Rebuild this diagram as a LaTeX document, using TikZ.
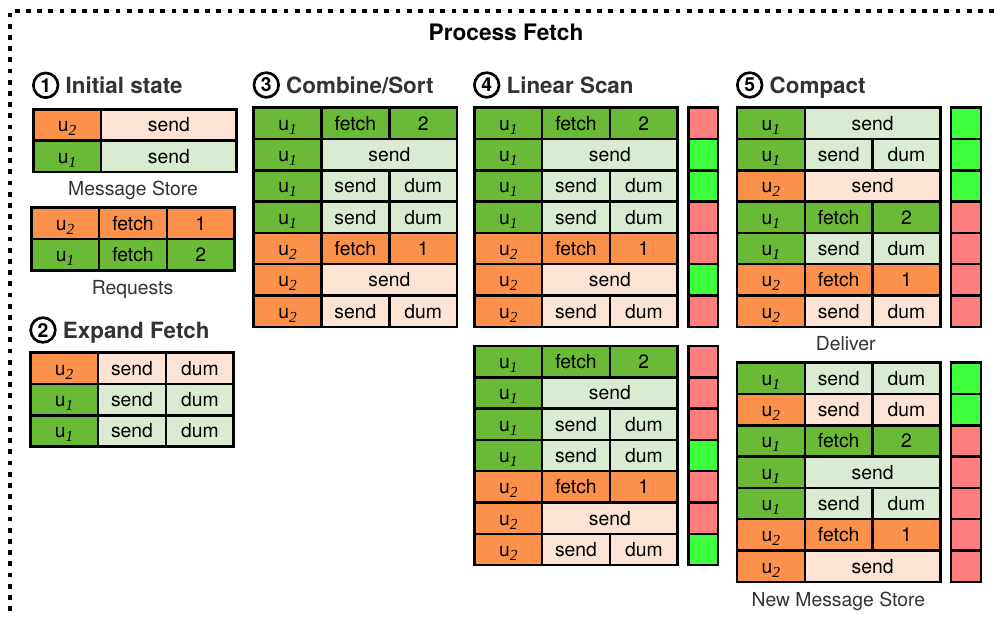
\documentclass[tikz,border=0pt]{standalone}
\usepackage{fontspec}
\setmainfont{TeX Gyre Heros}
\newfontfamily\subfont{Liberation Serif}
\usetikzlibrary{positioning}

\definecolor{gdark}{RGB}{106,185,55}
\definecolor{glight}{RGB}{217,235,208}
\definecolor{odark}{RGB}{252,145,75}
\definecolor{olight}{RGB}{253,227,212}
\definecolor{flagok}{RGB}{62,255,62}
\definecolor{flagno}{RGB}{255,127,127}
\definecolor{inkgray}{RGB}{51,51,51}

\newcommand\usub[1]{\raisebox{-3pt}{\fontsize{11.5}{12}\subfont\itshape #1}}
% rows of a table: name, row index, user, (number)
\newcommand\fetchrow[4]{%
  \node[cell, narrow, dark#3] (#1u) at (33.9, #2*31.3+15.65) {u\usub{#3}};
  \node[cell, narrow, dark#3] (#1f) at (101.7, #2*31.3+15.65) {fetch};
  \node[cell, narrow, dark#3] (#1n) at (169.5, #2*31.3+15.65) {#4};}
\newcommand\sendrow[3]{%
  \node[cell, narrow, dark#3] (#1u) at (33.9, #2*31.3+15.65) {u\usub{#3}};
  \node[cell, wide, light#3] (#1s) at (135.6, #2*31.3+15.65) {send};}
\newcommand\dumrow[3]{%
  \node[cell, narrow, dark#3] (#1u) at (33.9, #2*31.3+15.65) {u\usub{#3}};
  \node[cell, narrow, light#3] (#1s) at (101.7, #2*31.3+15.65) {send};
  \node[cell, narrow, light#3] (#1d) at (169.5, #2*31.3+15.65) {dum};}
\newcommand\flagbox[3]{%
  \node[cell, flag, #3] (#1) at (229, #2*31.3+15.65) {};}
% numbered heading: name, x, y, number, title
\newcommand\stephead[5]{%
  \node[stepnum] (#1n) at (#2,#3) {#4};
  \node[steptitle, right=4.5pt of #1n] (#1t) {#5};}

\begin{document}
\begin{tikzpicture}[x=0.75pt, y=-0.75pt,
    cell/.style = {draw, line width=1.9pt, inner sep=0pt,
      minimum height=23.5pt, text height=10.5pt, text depth=0pt,
      font=\fontsize{14.5}{16}\selectfont},
    narrow/.style = {minimum width=50.85pt},
    wide/.style = {minimum width=101.7pt},
    flag/.style = {minimum width=22.2pt},
    dark1/.style = {fill=gdark}, light1/.style = {fill=glight},
    dark2/.style = {fill=odark}, light2/.style = {fill=olight},
    keep/.style = {fill=flagok}, skip/.style = {fill=flagno},
    stepnum/.style = {circle, draw, line width=2pt, inner sep=0pt,
      minimum size=18.5pt, font=\fontsize{14.5}{14}\selectfont\bfseries},
    steptitle/.style = {inner sep=0pt, text=inkgray, text height=12pt,
      text depth=0pt, font=\fontsize{16.8}{18}\selectfont\bfseries},
    caption/.style = {inner sep=0pt, text=inkgray, text height=10.4pt,
      text depth=0pt, font=\fontsize{14.5}{16}\selectfont},
    frame/.style = {line width=2.5pt, dash pattern=on 3.6pt off 4.8pt}]
  \useasboundingbox (0,0) rectangle (994,617);
  \draw[frame] (994,11) -- (10,11) -- (10,617);
  \node[inner sep=0pt, text height=12.3pt, text depth=0pt,
    font=\fontsize{17}{18}\selectfont\bfseries] (title) at (506,32.5) {Process Fetch};

  % 1
  \stephead{one}{45.7}{85.3}{1}{Initial state}
  \begin{scope}[shift={(33.3,109.3)}]
    \sendrow{ms0}{0}{2}
    \sendrow{ms1}{1}{1}
  \end{scope}
  \node[caption] (mslabel) at (133,188.5) {Message Store};
  \begin{scope}[shift={(31.3,207.7)}]
    \fetchrow{rq0}{0}{2}{1}
    \fetchrow{rq1}{1}{1}{2}
  \end{scope}
  \node[caption] (rqlabel) at (132.5,287.5) {Requests};

  % 2
  \stephead{two}{43}{330}{2}{Expand Fetch}
  \begin{scope}[shift={(30.3,352.7)}]
    \dumrow{ex0}{0}{2}
    \dumrow{ex1}{1}{1}
    \dumrow{ex2}{2}{1}
  \end{scope}

  % 3
  \stephead{three}{266.3}{85}{3}{Combine/Sort}
  \begin{scope}[shift={(253.7,107.7)}]
    \fetchrow{cs0}{0}{1}{2}
    \sendrow{cs1}{1}{1}
    \dumrow{cs2}{2}{1}
    \dumrow{cs3}{3}{1}
    \fetchrow{cs4}{4}{2}{1}
    \sendrow{cs5}{5}{2}
    \dumrow{cs6}{6}{2}
  \end{scope}

  % 4
  \stephead{four}{486.7}{85}{4}{Linear Scan}
  \begin{scope}[shift={(474.3,107.7)}]
    \fetchrow{la0}{0}{1}{2}
    \sendrow{la1}{1}{1}
    \dumrow{la2}{2}{1}
    \dumrow{la3}{3}{1}
    \fetchrow{la4}{4}{2}{1}
    \sendrow{la5}{5}{2}
    \dumrow{la6}{6}{2}
    \flagbox{lafl0}{0}{skip}
    \flagbox{lafl1}{1}{keep}
    \flagbox{lafl2}{2}{keep}
    \flagbox{lafl3}{3}{skip}
    \flagbox{lafl4}{4}{skip}
    \flagbox{lafl5}{5}{keep}
    \flagbox{lafl6}{6}{skip}
  \end{scope}
  \begin{scope}[shift={(474.3,346)}]
    \fetchrow{lb0}{0}{1}{2}
    \sendrow{lb1}{1}{1}
    \dumrow{lb2}{2}{1}
    \dumrow{lb3}{3}{1}
    \fetchrow{lb4}{4}{2}{1}
    \sendrow{lb5}{5}{2}
    \dumrow{lb6}{6}{2}
    \flagbox{lbfl0}{0}{skip}
    \flagbox{lbfl1}{1}{skip}
    \flagbox{lbfl2}{2}{skip}
    \flagbox{lbfl3}{3}{keep}
    \flagbox{lbfl4}{4}{skip}
    \flagbox{lbfl5}{5}{skip}
    \flagbox{lbfl6}{6}{keep}
  \end{scope}

  % 5
  \stephead{five}{749.7}{85}{5}{Compact}
  \begin{scope}[shift={(737,107.7)}]
    \sendrow{dl0}{0}{1}
    \dumrow{dl1}{1}{1}
    \sendrow{dl2}{2}{2}
    \fetchrow{dl3}{3}{1}{2}
    \dumrow{dl4}{4}{1}
    \fetchrow{dl5}{5}{2}{1}
    \dumrow{dl6}{6}{2}
    \flagbox{dlfl0}{0}{keep}
    \flagbox{dlfl1}{1}{keep}
    \flagbox{dlfl2}{2}{keep}
    \flagbox{dlfl3}{3}{skip}
    \flagbox{dlfl4}{4}{skip}
    \flagbox{dlfl5}{5}{skip}
    \flagbox{dlfl6}{6}{skip}
  \end{scope}
  \node[caption] (dllabel) at (845.7,344) {Deliver};
  \begin{scope}[shift={(737,362.7)}]
    \dumrow{nm0}{0}{1}
    \dumrow{nm1}{1}{2}
    \fetchrow{nm2}{2}{1}{2}
    \sendrow{nm3}{3}{1}
    \dumrow{nm4}{4}{1}
    \fetchrow{nm5}{5}{2}{1}
    \sendrow{nm6}{6}{2}
    \flagbox{nmfl0}{0}{keep}
    \flagbox{nmfl1}{1}{keep}
    \flagbox{nmfl2}{2}{skip}
    \flagbox{nmfl3}{3}{skip}
    \flagbox{nmfl4}{4}{skip}
    \flagbox{nmfl5}{5}{skip}
    \flagbox{nmfl6}{6}{skip}
  \end{scope}
  \node[caption] (nmlabel) at (838.3,600) {New Message Store};
\end{tikzpicture}
\end{document}
